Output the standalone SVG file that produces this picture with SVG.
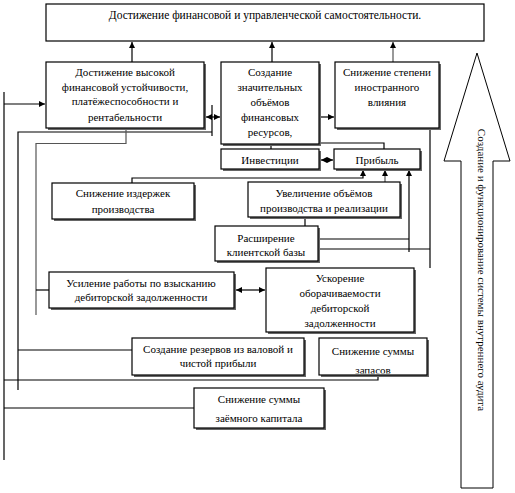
<svg xmlns="http://www.w3.org/2000/svg" width="515" height="493" viewBox="0 0 515 493">
<defs>
<style>
.box{fill:#fff;stroke:#000;stroke-width:1.2}
.sh{fill:#666}
text{font-family:"Liberation Serif",serif;font-size:11px;fill:#000;text-anchor:middle}
.c{fill:none;stroke:#000;stroke-width:1.2}
.g{stroke:#555}
</style>
<marker id="ah" markerWidth="7" markerHeight="6" refX="6" refY="3" orient="auto-start-reverse" markerUnits="userSpaceOnUse">
<path d="M0,0 L6,3 L0,6 z" fill="#000"/>
</marker>
<clipPath id="clipZ"><rect x="319" y="338" width="108" height="35.5"/></clipPath>
</defs>
<rect width="515" height="493" fill="#fff"/>

<g id="connectors">
<path class="c" d="M132,62 V42" marker-end="url(#ah)"/>
<path class="c" d="M272,62 V42" marker-end="url(#ah)"/>
<path class="c g" d="M393,62 V42" marker-end="url(#ah)"/>
<path class="c" d="M321,117 H334" marker-end="url(#ah)"/>
<path class="c" d="M206,117 H220" marker-start="url(#ah)" marker-end="url(#ah)"/>
<path class="c" d="M212,105 V136"/>
<path class="c" d="M212,132 H18 V390"/>
<path class="c" d="M4,92 V460"/>
<path class="c" d="M4,104 H45" marker-end="url(#ah)"/>
<path class="c g" d="M36,315 V143.5 H126 V120" marker-end="url(#ah)"/>
<path class="c" d="M36,290 H49"/>
<path class="c" d="M18,350 H132"/>
<path class="c" d="M4,380 H378 V372"/>
<path class="c" d="M4,408 H194"/>
<path class="c" d="M271,149 V134" marker-end="url(#ah)"/>
<path class="c" d="M384,149 V143 H293 V134" marker-end="url(#ah)"/>
<path class="c" d="M321,160 H333" marker-start="url(#ah)" marker-end="url(#ah)"/>
<path class="c" d="M132,183 V178 H363 V170" marker-end="url(#ah)"/>
<path class="c g" d="M385,182 V170" marker-end="url(#ah)"/>
<path class="c" d="M320,239 H409"/>
<path class="c" d="M409,252 V170" marker-end="url(#ah)"/>
<path class="c" d="M320,249 H430"/>
<path class="c" d="M430,268 V118" marker-end="url(#ah)"/>
<path class="c" d="M305,226 V212" marker-end="url(#ah)"/>
<path class="c" d="M236,290 H265" marker-start="url(#ah)" marker-end="url(#ah)"/>
</g>

<g id="n-top">
<rect class="box" x="46" y="4" width="438" height="37"/>
<text x="265" y="19" style="font-size:11.5px">Достижение финансовой и управленческой самостоятельности.</text>
</g>

<g id="n-stability">
<rect class="sh" x="48" y="64" width="158" height="66"/>
<rect class="box" x="46" y="62" width="158" height="66"/>
<text x="125" y="76">Достижение высокой</text>
<text x="125" y="91">финансовой устойчивости,</text>
<text x="125" y="105">платёжеспособности и</text>
<text x="125" y="121">рентабельности</text>
</g>

<g id="n-resources">
<rect class="sh" x="223" y="64" width="98" height="82"/>
<rect class="box" x="221" y="62" width="98" height="82"/>
<text x="270" y="76">Создание</text>
<text x="270" y="91">значительных</text>
<text x="270" y="106">объёмов</text>
<text x="270" y="121">финансовых</text>
<text x="270" y="136">ресурсов,</text>
</g>

<g id="n-foreign">
<rect class="sh" x="337" y="64" width="104" height="66"/>
<rect class="box" x="335" y="62" width="104" height="66"/>
<text x="387" y="76">Снижение степени</text>
<text x="387" y="91">иностранного</text>
<text x="387" y="106">влияния</text>
</g>

<g id="n-invest">
<rect class="sh" x="223" y="151" width="98" height="20"/>
<rect class="box" x="221" y="149" width="98" height="20"/>
<text x="270" y="164">Инвестиции</text>
</g>

<g id="n-profit">
<rect class="sh" x="336" y="151" width="86" height="20"/>
<rect class="box" x="334" y="149" width="86" height="20"/>
<text x="377" y="164">Прибыль</text>
</g>

<g id="n-costs">
<rect class="sh" x="54" y="185" width="142" height="36"/>
<rect class="box" x="52" y="183" width="142" height="36"/>
<text x="123" y="197">Снижение издержек</text>
<text x="123" y="213">производства</text>
</g>

<g id="n-volume">
<rect class="sh" x="250" y="184" width="152" height="35"/>
<rect class="box" x="248" y="182" width="152" height="35"/>
<text x="324" y="197">Увеличение объёмов</text>
<text x="324" y="212">производства и реализации</text>
</g>

<g id="n-clients">
<rect class="sh" x="217" y="228" width="103" height="35"/>
<rect class="box" x="215" y="226" width="103" height="35"/>
<text x="266" y="242">Расширение</text>
<text x="266" y="256">клиентской базы</text>
</g>

<g id="n-collect">
<rect class="sh" x="51" y="274" width="185" height="36"/>
<rect class="box" x="49" y="272" width="185" height="36"/>
<text x="141" y="287">Усиление работы по взысканию</text>
<text x="141" y="301">дебиторской задолженности</text>
</g>

<g id="n-turnover">
<rect class="sh" x="268" y="270" width="148" height="64"/>
<rect class="box" x="266" y="268" width="148" height="64"/>
<text x="340" y="282">Ускорение</text>
<text x="340" y="297">оборачиваемости</text>
<text x="340" y="312">дебиторской</text>
<text x="340" y="327">задолженности</text>
</g>

<g id="n-reserves">
<rect class="sh" x="134" y="340" width="172" height="37"/>
<rect class="box" x="132" y="338" width="172" height="37"/>
<text x="218" y="353">Создание резервов из валовой и</text>
<text x="218" y="367">чистой прибыли</text>
</g>

<g id="n-stock">
<rect class="sh" x="321" y="340" width="108" height="37"/>
<rect class="box" x="319" y="338" width="108" height="37"/>
<text x="373" y="355">Снижение суммы</text>
<text x="373" y="374" clip-path="url(#clipZ)">запасов</text>
</g>

<g id="n-loan">
<rect class="sh" x="196" y="390" width="130" height="40"/>
<rect class="box" x="194" y="388" width="130" height="40"/>
<text x="259" y="403">Снижение суммы</text>
<text x="259" y="422">заёмного капитала</text>
</g>

<g id="n-audit">
<path d="M461,488 V161 H444 L477,53 L510,161 H493 V488 Z" fill="#fff" stroke="#000" stroke-width="1"/>
<text transform="translate(478,270) rotate(90)" x="0" y="0" style="font-size:11px">Создание и функционирование системы внутреннего аудита</text>
</g>
</svg>
